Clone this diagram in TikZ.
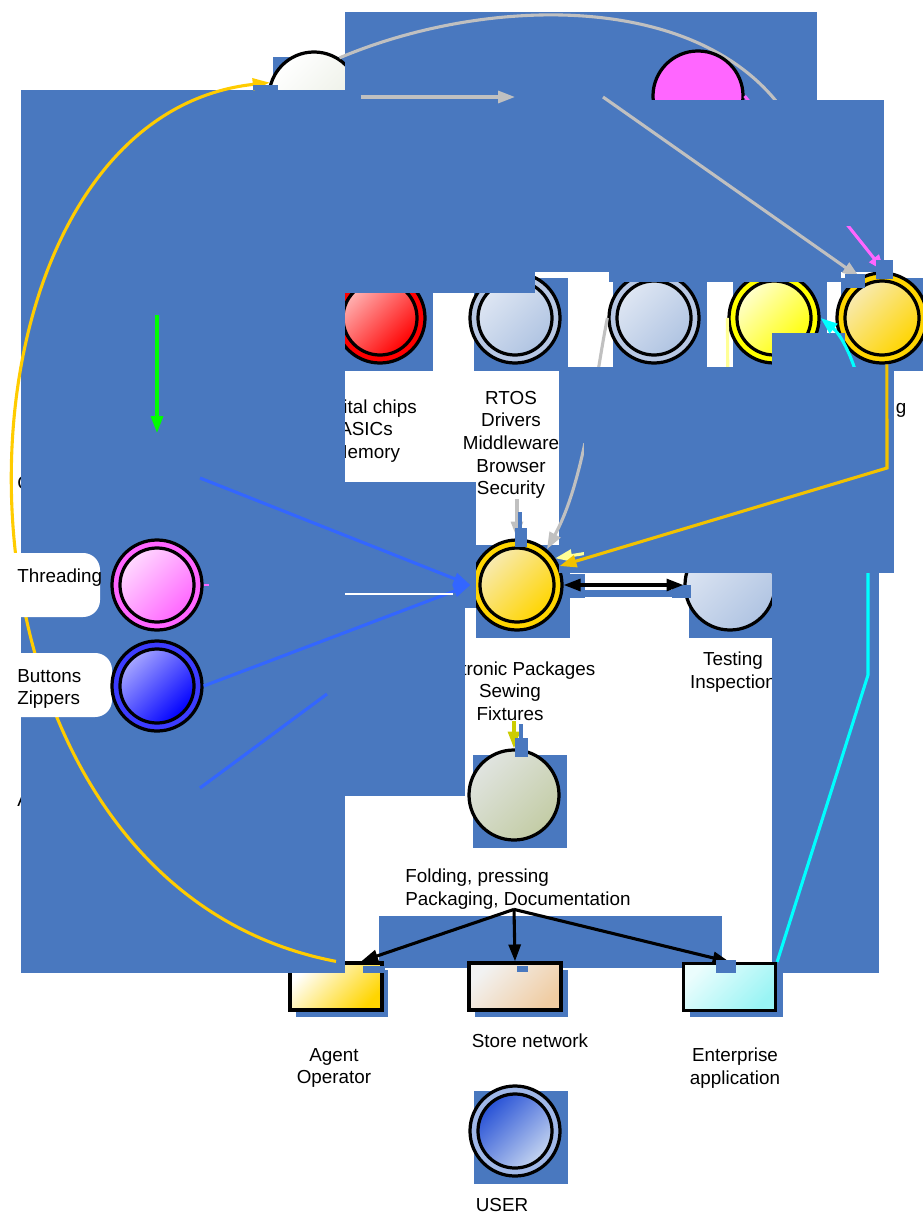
\documentclass[tikz,border=0pt]{standalone}
\usepackage{fontspec}
\setmainfont{Liberation Sans}
\usetikzlibrary{arrows.meta,positioning}

\definecolor{boxblue}{RGB}{73,120,191}
\definecolor{linkgray}{RGB}{192,192,192}
\definecolor{linkblue}{RGB}{51,102,255}
\definecolor{linkcyan}{RGB}{0,255,255}
\definecolor{linkgreen}{RGB}{0,255,0}
\definecolor{curvegold}{RGB}{255,204,0}
\definecolor{linkgold}{RGB}{242,194,0}
\definecolor{linkolive}{RGB}{204,204,0}
\definecolor{paleyellow}{RGB}{255,255,150}
\definecolor{pinkish}{RGB}{255,102,255}
\definecolor{goldring}{RGB}{255,213,0}
\definecolor{goldlight}{RGB}{248,234,176}
\definecolor{steel}{RGB}{184,200,228}
\definecolor{steellight}{RGB}{222,230,243}
\definecolor{steeldark}{RGB}{176,196,226}
\definecolor{mist}{RGB}{232,236,224}
\definecolor{olivegray}{RGB}{195,204,165}
\definecolor{olivelight}{RGB}{224,228,224}
\definecolor{peach}{RGB}{240,204,162}
\definecolor{aqua}{RGB}{153,244,244}
\definecolor{userring}{RGB}{160,184,232}
\definecolor{userdark}{RGB}{40,82,214}
\definecolor{userlight}{RGB}{196,212,240}
\definecolor{btnring}{RGB}{60,60,255}
\definecolor{brightyellow}{RGB}{255,255,0}

\begin{document}
\begin{tikzpicture}[x=0.025cm,y=-0.025cm,
    ring/.style={circle,draw=black,line width=2.3pt,minimum size=2.25cm,inner sep=0pt},
    core/.style={circle,draw=black,line width=2.3pt,minimum size=1.85cm,inner sep=0pt},
    grad/.style 2 args={top color=#1,bottom color=#2,shading angle=45},
    box/.style={draw=black,line width=2.3pt,minimum width=2.3cm,minimum height=1.175cm,inner sep=0pt},
    txt/.style={align=center,inner sep=0pt,font=\fontsize{13.4}{16.1}\selectfont},
    link/.style={line width=2.2pt,-{Triangle[length=12pt,width=8.5pt]}},
    dlink/.style={line width=2.2pt,{Triangle[length=12pt,width=8.5pt]}-{Triangle[length=12pt,width=8.5pt]}},
    tipbox/.style={fill=boxblue}]
\useasboundingbox (0,0) rectangle (922,1215);
\fill[white] (0,0) rectangle (922,1215);

% top circle and upper row
\fill[boxblue] (273,57) rectangle (367,150);
\node[ring,grad={white}{mist}] (tl) at (314,97) {};
\fill[boxblue] (339,278) rectangle (433,371);
\fill[boxblue] (474,278) rectangle (568,371);
\fill[boxblue] (613,278) rectangle (707,371);
\fill[boxblue] (733,278) rectangle (827,371);
\fill[boxblue] (841,278) rectangle (935,371);
\node[ring,fill=red] (rd) at (380,318) {};
\node[core,grad={red!30}{red}] (rd-in) at (rd) {};
\node[ring,fill=steel] (ga) at (515,318) {};
\node[core,grad={steellight}{steeldark}] (ga-in) at (ga) {};
\node[ring,fill=steel] (gb) at (654,318) {};
\node[core,grad={steellight}{steeldark}] (gb-in) at (gb) {};
\node[ring,fill=brightyellow] (yl) at (774,318) {};
\node[core,grad={brightyellow!20}{brightyellow}] (yl-in) at (yl) {};
\node[ring,fill=goldring] (rg) at (882,318) {};
\node[core,grad={goldlight}{goldring}] (rg-in) at (rg) {};

\fill[boxblue] (345,12) rectangle (817,100);
\coordinate (arcend) at (805,150);
\draw[linkgray,line width=2.2pt] (tl.57) .. controls (500,-10) and (740,-10) .. (arcend);
\node[ring,fill=pinkish] (pk) at (698,96) {};

\fill[boxblue] (345,100) rectangle (884,272);
\fill[boxblue] (345,272) rectangle (535,293);
\fill[boxblue] (609,272) rectangle (841,282);

\draw[link,pinkish] (pk.east) -- (rg.87);
\fill[boxblue] (745,100) rectangle (872,226);

\coordinate (hid1) at (515,97);
\coordinate (hid2) at (603,97);
\draw[link,linkgray] (tl.east) -- (hid1);
\draw[link,linkgray] (hid2) -- (rg.119);
\fill[tipbox] (845,274) rectangle (865,288);
\fill[tipbox] (876,260) rectangle (893,279);
\fill[boxblue] (772,333) rectangle (845,367);

\node[txt] (rd-lbl) at (366,431) {Digital chips\\ASICs\\Memory};
\node[txt] (ga-lbl) at (511,445) {RTOS\\Drivers\\Middleware\\Browser\\Security};
\node[txt] (rg-lbl) at (901,410) {g};

% lower circles
\fill[boxblue] (476,545) rectangle (570,638);
\node[ring,fill=goldring] (cg) at (517,585) {};
\node[core,grad={goldlight}{goldring}] (cg-in) at (cg) {};
\fill[boxblue] (689,545) rectangle (783,638);
\node[ring,grad={steellight}{steeldark}] (ts) at (730,585) {};
\fill[boxblue] (473,755) rectangle (567,848);
\node[ring,grad={olivelight}{olivegray}] (fold) at (514,795) {};
\fill[boxblue] (474,1091) rectangle (568,1184);
\node[ring,fill=userring] (us) at (515,1131) {};
\node[core,grad={userdark}{userlight}] (us-in) at (us) {};

\node[txt] (cg-lbl) at (510,691) {Electronic Packages\\Sewing\\Fixtures};
\node[txt] (ts-lbl) at (733,672) {Testing\\Inspection};
\node[txt,align=left] (fold-lbl) at (518,889) {Folding, pressing\\Packaging, Documentation};
\node[txt] (us-lbl) at (502,1205) {USER};
\node[txt,anchor=west] (c-lbl) at (17,483) {C};
\node[txt,anchor=west] (a-lbl) at (17,800) {A};

\fill[boxblue] (379,916) rectangle (722,968);
\fill[boxblue] (772,573) rectangle (879,973);

% boxes
\fill[boxblue] (296,970) rectangle (388,1017);
\node[box,grad={white}{goldring}] (ag) at (336,986.5) {};
\fill[boxblue] (475,970) rectangle (568,1017);
\node[box,grad={white!90!gray}{peach}] (st) at (515,986.5) {};
\fill[boxblue] (690,971) rectangle (783,1017);
\node[box,grad={aqua!20}{aqua}] (en) at (729.5,987) {};
\node[txt] (ag-lbl) at (334,1068) {Agent\\Operator};
\node[txt] (st-lbl) at (530,1041) {Store network};
\node[txt] (en-lbl) at (735,1068) {Enterprise\\application};

\fill[boxblue] (21,90) rectangle (345,973);
\fill[boxblue] (345,482) rectangle (476,608);
\fill[boxblue] (345,608) rectangle (465,796);

\draw[link,linkcyan] (en.north east) -- (868,675) -- (868,440) .. controls (866,385) and (845,338) .. (yl.east);
\fill[boxblue] (559,367) rectangle (894,573);

\draw[link,linkgray] (gb.west) .. controls (595,380) and (585,480) .. (cg.50);
\draw[link,paleyellow] (yl.west) -- (729,530) -- (cg.35);
\fill[boxblue] (572,367) rectangle (894,443);
\fill[boxblue] (584,443) rectangle (894,562);
\draw[link,linkgold] (rg.-84) -- (887,468) -- (cg.24);

\draw[link,linkgray] (ga-lbl.south -| cg.north) -- (cg.north);
\fill[tipbox] (518,512) rectangle (522,528);
\fill[tipbox] (515,528) rectangle (527,547);

\fill[tipbox] (566,574) rectangle (585,598);
\fill[tipbox] (585,590) rectangle (672,597);
\fill[tipbox] (672,585) rectangle (691,598);
\draw[dlink] (cg.east) -- (ts.west);

\draw[link,linkolive] (cg-lbl.south -| fold.north) -- (fold.north);
\fill[tipbox] (519,724) rectangle (523,738);
\fill[tipbox] (515,738) rectangle (528,757);

\draw[link] (fold-lbl.south -| fold.south) -- (ag.45);
\draw[link] (fold-lbl.south -| fold.south) -- (st.north);
\draw[link] (fold-lbl.south -| fold.south) -- (en.north);
\fill[tipbox] (363,966) rectangle (385,973);
\fill[tipbox] (517,966) rectangle (528,972);
\fill[tipbox] (716,960) rectangle (736,973);

\draw[link,curvegold] (ag.north) .. controls (-90,880) and (-75,120) .. (tl.162);
\fill[tipbox] (253,85) rectangle (278,90);

% left column
\fill[white,rounded corners=12pt] (-20,553) rectangle (100,617);
\fill[white,rounded corners=12pt] (-20,653) rectangle (112,717);
\node[txt,anchor=west] (th-lbl) at (17,578) {Threading};
\node[txt,anchor=west,align=left] (bt-lbl) at (17,689) {Buttons\\Zippers};
\node[ring,fill=pinkish] (th) at (157,585) {};
\node[core,grad={pinkish!25}{pinkish}] (th-in) at (th) {};
\node[ring,fill=btnring] (bt) at (157,686) {};
\node[core,grad={blue!35}{blue}] (bt-in) at (bt) {};

\coordinate (gr-top) at (157,315);
\coordinate (gr-end) at (157,433);
\draw[link,linkgreen] (gr-top) -- (gr-end);

\coordinate (c-hid) at (200,478);
\coordinate (a-hid) at (200,788);
\coordinate (a-cut) at (327,694);
\draw[link,linkblue] (c-hid) -- (cg.west);
\draw[link,linkblue] (bt.east) -- (cg.west);
\draw[linkblue,line width=2.2pt] (a-hid) -- (a-cut);
\draw[white,line width=1pt] (345,594) -- (453,594);
\draw[pinkish,line width=1.5pt] (th.east) -- ++(5,0);

\end{tikzpicture}
\end{document}
